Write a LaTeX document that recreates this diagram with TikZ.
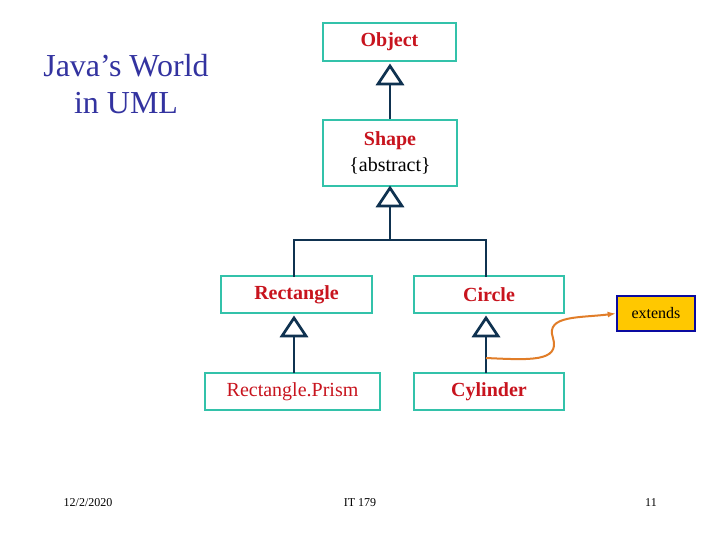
\documentclass[tikz,border=0pt]{standalone}
\usepackage{fontspec}
\usetikzlibrary{arrows.meta}
\setmainfont{Liberation Serif}
\definecolor{boxline}{RGB}{51,194,170}
\definecolor{lnk}{RGB}{15,50,80}
\definecolor{txtred}{RGB}{200,20,30}
\definecolor{ttl}{RGB}{51,51,160}
\definecolor{orng}{RGB}{225,125,40}
\definecolor{gold}{RGB}{255,200,0}
\definecolor{bblue}{RGB}{10,10,160}
\begin{document}
\begin{tikzpicture}[x=0.75pt,y=-0.75pt,
  cls/.style={draw=boxline,line width=1.5pt,fill=white,align=center,font=\fontsize{15}{18}\selectfont\bfseries\color{txtred},inner sep=0pt},
  link/.style={draw=lnk,line width=2.2pt},
  tri/.style={draw=lnk,line width=2pt,fill=white,line join=miter},
  foot/.style={font=\fontsize{9}{11}\selectfont}]
\useasboundingbox[fill=white] (0,0) rectangle (720,540);
\node[font=\fontsize{24}{28}\selectfont,text=ttl,align=center] (title) at (126,84) {Java’s World\\in UML};
\node[cls,minimum width=133*0.75pt,minimum height=38*0.75pt] (obj) at (389.5,42) {Object};
\node[cls,minimum width=134*0.75pt,minimum height=66*0.75pt] (shape) at (390,153) {Shape\\[1pt]{\mdseries\color{black}\{abstract\}}};
\node[cls,minimum width=151*0.75pt,minimum height=37*0.75pt] (rect) at (296.5,294.5) {Rectangle};
\node[cls,minimum width=150*0.75pt,minimum height=37*0.75pt] (circ) at (489,294.5) {Circle};
\node[cls,minimum width=175*0.75pt,minimum height=37*0.75pt,font=\fontsize{15}{18}\selectfont\color{txtred}] (prism) at (292.5,391.5) {Rectangle.Prism};
\node[cls,minimum width=150*0.75pt,minimum height=37*0.75pt] (cyl) at (489,391.5) {Cylinder};
\node[draw=bblue,fill=gold,line width=2pt,minimum width=78*0.75pt,minimum height=35*0.75pt,inner sep=0pt,font=\fontsize{12}{14}\selectfont] (ext) at (656,313.5) {extends};
% generalizations
\coordinate (t1) at (390,84); \coordinate (t2) at (390,206);
\coordinate (t3) at (294,336); \coordinate (t4) at (486,336);
\draw[link] (t1) -- (shape.north);
\draw[link] (t2) -- (390,240) -- (294,240) -- (294,276.5);
\draw[link] (390,240) -- (486,240) -- (486,276.5);
\draw[link] (t3) -- (294,373);
\draw[link] (t4) -- (486,373);
\foreach \c in {t1,t2,t3,t4}{
  \draw[tri] (\c) ++(-12,0) -- ++(12,-18) -- ++(12,18) -- cycle;
}
\coordinate (os) at (486,358);
\draw[orng,line width=1.5pt,-{Latex[length=6pt]}] (os) .. controls (530,360) and (560,362) .. (553,338)
  .. controls (545,315) and (580,318) .. (ext.west);
\node[foot] (d) at (88,503) {12/2/2020};
\node[foot] (it) at (360,503) {IT 179};
\node[foot] (pg) at (651,503) {11};
\end{tikzpicture}
\end{document}
